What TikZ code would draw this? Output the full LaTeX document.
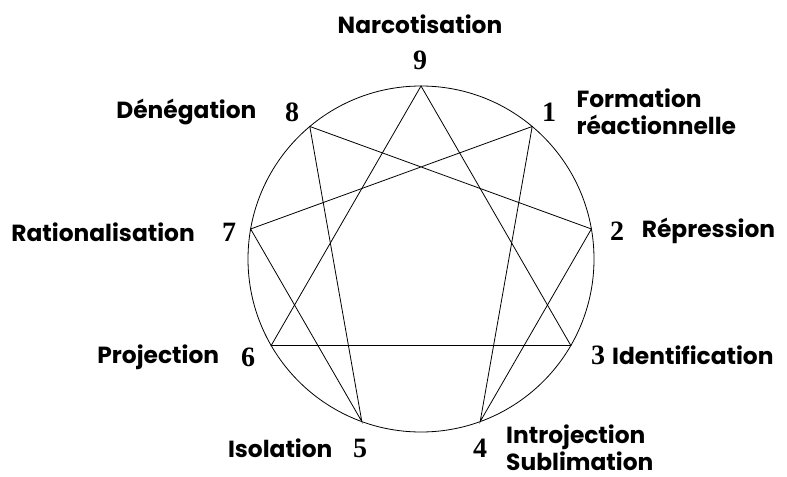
\documentclass[tikz,border=0pt]{standalone}
\usepackage{fontspec}
\setmainfont{Poppins}
\newfontfamily\digitfont{Liberation Serif}
\usetikzlibrary{positioning}

\begin{document}
\begin{tikzpicture}[x=0.75pt, y=-0.75pt]
    \tikzset{
        mecanisme/.style={font=\fontsize{17.5}{20}\selectfont\bfseries, inner sep=0pt, align=left},
        chiffre/.style={font=\digitfont\fontsize{21}{21}\selectfont\bfseries, inner sep=0pt},
        trait/.style={black, line width=0.6pt},
    }
    \useasboundingbox (0,0) rectangle (787,477);

    % cercle et les neuf points
    \coordinate (c) at (421,259);
    \draw[trait] (c) circle (129.75pt);
    \foreach \n/\a in {9/90, 1/50, 2/10, 3/-30, 4/-70, 5/-110, 6/-150, 7/170, 8/130}
        \coordinate (p\n) at ([shift={(\a:129.75pt)}]c);

    % triangle et hexade
    \draw[trait] (p9) -- (p3) -- (p6) -- cycle;
    \draw[trait] (p1) -- (p4) -- (p2) -- (p8) -- (p5) -- (p7) -- cycle;

    % chiffres
    \node[chiffre] (d9) at (420,60)  {9};
    \node[chiffre] (d1) at (549,112) {1};
    \node[chiffre] (d2) at (617,231) {2};
    \node[chiffre] (d3) at (598,355) {3};
    \node[chiffre] (d4) at (480,448) {4};
    \node[chiffre] (d5) at (360,448) {5};
    \node[chiffre] (d6) at (248,357) {6};
    \node[chiffre] (d7) at (229,232) {7};
    \node[chiffre] (d8) at (292,112) {8};

    % mecanismes de defense
    \node[mecanisme, above=12pt of d9] (m9) {Narcotisation};
    \node[mecanisme, right=15pt of d1] (m1) {Formation\\réactionnelle};
    \node[mecanisme, right=13pt of d2] (m2) {Répression};
    \node[mecanisme, right=5pt of d3]  (m3) {Identification};
    \node[mecanisme, right=14pt of d4] (m4) {Introjection\\Sublimation};
    \node[mecanisme, left=15pt of d5]  (m5) {Isolation};
    \node[mecanisme, left=16pt of d6]  (m6) {Projection};
    \node[mecanisme, left=20pt of d7]  (m7) {Rationalisation};
    \node[mecanisme, left=21pt of d8]  (m8) {Dénégation};
\end{tikzpicture}
\end{document}
